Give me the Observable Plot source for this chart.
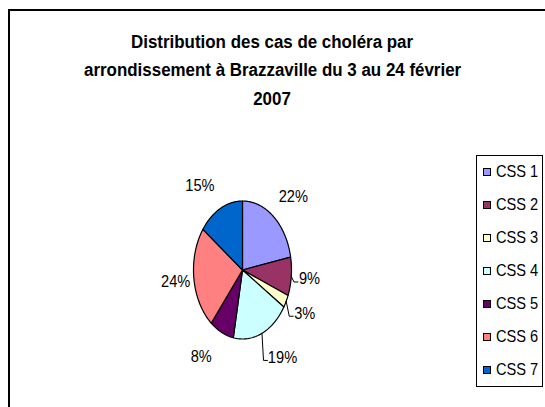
<!DOCTYPE html>
<html>
<head>
<meta charset="utf-8">
<script src="https://cdn.jsdelivr.net/npm/d3@7"></script>
<script src="https://cdn.jsdelivr.net/npm/@observablehq/plot@0.6"></script>
<style>
  html, body { margin: 0; padding: 0; background: #fff; }
  #page { position: relative; width: 545px; height: 407px; overflow: hidden; background: #fff;
          font-family: "Liberation Sans", Arial, sans-serif; }
  #frame { position: absolute; left: 8px; top: 9px; width: 700px; height: 600px;
           border-left: 2px solid #000; border-top: 2px solid #000; }
  #title { position: absolute; left: 0; top: 28px; width: 545px; text-align: center;
           font-weight: bold; font-size: 18px; line-height: 28.3px; color: #000; }
  #title span { display: inline-block; transform: scaleX(0.94); transform-origin: center; white-space: nowrap; }
  #chart { position: absolute; left: 0; top: 0; }
  #legend { position: absolute; left: 476px; top: 155px; width: 67px; height: 232px;
            border: 1px solid #000; box-sizing: border-box; }
  .item { position: absolute; left: 0; display: flex; align-items: center; font-size: 17px;
          height: 20px; margin-top: -10px; }
  .item span { display: inline-block; transform: scaleX(0.86); transform-origin: left center; white-space: nowrap; }
  .sw { width: 6px; height: 6px; border: 1px solid #000; margin-left: 6px; margin-right: 5px; }
</style>
</head>
<body>
<div id="page">
  <div id="chart"></div>
  <div id="frame"></div>
  <div id="title"></div>
  <div id="legend"></div>
</div>
<script>
// ---- data ----
const titleLines = ["Distribution des cas de choléra par",
                    "arrondissement à Brazzaville du 3 au 24 février",
                    "2007"];
const names = ["CSS 1", "CSS 2", "CSS 3", "CSS 4", "CSS 5", "CSS 6", "CSS 7"];
const values = [22, 9, 3, 19, 8, 24, 15];
const colors = ["#9999FF", "#993366", "#FFFFCC", "#CCFFFF", "#660066", "#FF8080", "#0066CC"];
const leaderLabels = ["CSS 2", "CSS 3", "CSS 4"];

// ---- title ----
const titleEl = document.getElementById("title");
titleLines.forEach(t => {
  const line = document.createElement("div");
  const s = document.createElement("span");
  s.textContent = t;
  line.appendChild(s);
  titleEl.appendChild(line);
});

// ---- pie geometry (clockwise from 12 o'clock, like Excel) ----
const total = d3.sum(values);
let acc = 0;
const slices = names.map((name, i) => {
  const a0 = acc / total * 2 * Math.PI;
  acc += values[i];
  const a1 = acc / total * 2 * Math.PI;
  const mid = (a0 + a1) / 2;
  const s = Math.sin(mid), c = Math.cos(mid);
  const lx = 0.92 * s + Math.sign(s) * 0.451;
  const ly = 1.38 * c;
  return {name, value: values[i], a0, a1, mid, s, c, lx, ly, label: values[i] + "%"};
});

const points = [];
for (const sl of slices) {
  points.push({name: sl.name, x: 0, y: 0});
  const n = Math.max(2, Math.ceil((sl.a1 - sl.a0) / 0.02));
  for (let k = 0; k <= n; k++) {
    const t = sl.a0 + (sl.a1 - sl.a0) * k / n;
    points.push({name: sl.name, x: Math.sin(t), y: Math.cos(t)});
  }
}

// x unit = 49px, y unit = 68.5px
const pxX = 1 / 49, pxY = 1 / 68.5;
const leaders = [];
for (const sl of slices.filter(d => leaderLabels.includes(d.name))) {
  const hw = (sl.label.length === 2 ? 10.5 : 14) * pxX;
  const left = sl.lx - hw - 1 * pxX;
  leaders.push({name: sl.name, x: sl.s, y: sl.c});
  leaders.push({name: sl.name, x: left - 4 * pxX, y: sl.ly - 3 * pxY});
  leaders.push({name: sl.name, x: left, y: sl.ly - 3 * pxY});
}

const chart = Plot.plot({
  width: 545,
  height: 407,
  margin: 0,
  style: {background: "transparent"},
  x: {domain: [-1, 1], range: [193, 291], axis: null},
  y: {domain: [-1, 1], range: [338.5, 200.5], axis: null},
  color: {domain: names, range: colors},
  marks: [
    Plot.line(points, {x: "x", y: "y", z: "name", fill: "name", stroke: "#000", strokeWidth: 1.2,
                       curve: "linear-closed", strokeLinejoin: "round"}),
    Plot.line(leaders, {x: "x", y: "y", z: "name", stroke: "#000", strokeWidth: 1, curve: "linear"}),
    Plot.text(slices, {x: "lx", y: "ly", text: "label", fontSize: 17, fill: "#000",
                       fontFamily: "Liberation Sans, Arial, sans-serif"})
  ]
});
document.getElementById("chart").appendChild(chart);
// condense label glyphs horizontally like the reference
d3.select(chart).selectAll("text").each(function () {
  const w = this.getComputedTextLength();
  if (w > 0) {
    this.setAttribute("textLength", (w * 0.86).toFixed(1));
    this.setAttribute("lengthAdjust", "spacingAndGlyphs");
  }
});

// ---- legend ----
const legend = document.getElementById("legend");
names.forEach((n, i) => {
  const item = document.createElement("div");
  item.className = "item";
  item.style.top = (17 + 33 * i - 1) + "px";
  const sw = document.createElement("div");
  sw.className = "sw";
  sw.style.background = colors[i];
  const t = document.createElement("span");
  t.textContent = n;
  item.appendChild(sw);
  item.appendChild(t);
  legend.appendChild(item);
});
</script>
</body>
</html>
